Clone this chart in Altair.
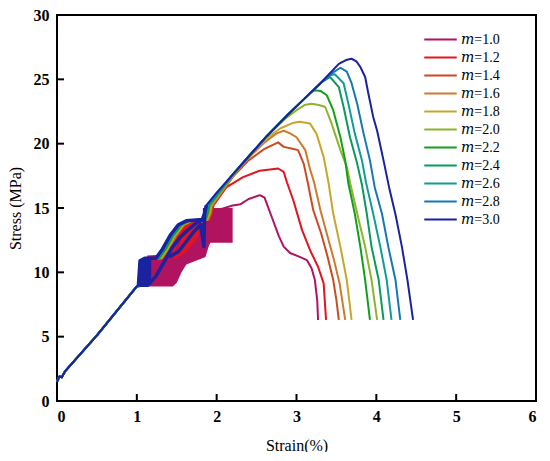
import altair as alt
import pandas as pd

# ---------------- data ----------------
labels = ["𝑚=1.0", "𝑚=1.2", "𝑚=1.4", "𝑚=1.6", "𝑚=1.8", "𝑚=2.0",
          "𝑚=2.2", "𝑚=2.4", "𝑚=2.6", "𝑚=2.8", "𝑚=3.0"]
colors = ["#B0135F", "#E3141E", "#CC4A22", "#CC7A2E", "#C8A62C", "#8DB42A",
          "#12A01A", "#0A9A5E", "#139C96", "#1677B6", "#1A22A0"]

# common elastic start (all curves)
start_strain = [0.0, 0.03, 0.06, 0.10, 0.50, 1.0]
start_stress = [1.5, 1.9, 1.85, 2.3, 5.1, 8.9]

# upper path through the cyclic-loading stages (stress levels shared)
loop_stress = [9.0, 10.9, 11.1, 11.1, 11.8, 12.9, 13.7, 14.0, 14.1, 14.6, 15.2]
loop_strain = {
    "𝑚=1.0": [1.12, 1.13, 1.16, 1.45, 1.50, 1.56, 1.61, 1.66, 1.86, 1.89, 2.20],
    "𝑚=1.2": [1.10, 1.13, 1.19, 1.34, 1.42, 1.52, 1.62, 1.72, 1.91, 1.94, 1.96],
    "𝑚=1.4": [1.09, 1.12, 1.18, 1.32, 1.40, 1.50, 1.60, 1.70, 1.90, 1.93, 1.95],
    "𝑚=1.6": [1.08, 1.11, 1.17, 1.31, 1.39, 1.49, 1.59, 1.69, 1.89, 1.92, 1.94],
    "𝑚=1.8": [1.07, 1.10, 1.16, 1.30, 1.38, 1.48, 1.58, 1.68, 1.88, 1.91, 1.93],
    "𝑚=2.0": [1.06, 1.09, 1.15, 1.29, 1.37, 1.47, 1.57, 1.67, 1.87, 1.90, 1.92],
    "𝑚=2.2": [1.05, 1.08, 1.14, 1.28, 1.36, 1.46, 1.56, 1.66, 1.86, 1.89, 1.91],
    "𝑚=2.4": [1.05, 1.07, 1.13, 1.27, 1.35, 1.45, 1.55, 1.65, 1.85, 1.88, 1.90],
    "𝑚=2.6": [1.04, 1.06, 1.12, 1.26, 1.34, 1.44, 1.54, 1.64, 1.84, 1.87, 1.89],
    "𝑚=2.8": [1.03, 1.05, 1.11, 1.25, 1.33, 1.43, 1.53, 1.63, 1.83, 1.86, 1.88],
    "𝑚=3.0": [1.02, 1.04, 1.10, 1.24, 1.32, 1.42, 1.52, 1.62, 1.82, 1.85, 1.87],
}

# post-cyclic loading: envelope, peak and softening branch
post_strain = {
    "𝑚=1.0": [2.30, 2.40, 2.54, 2.60, 2.69, 2.78, 2.84, 2.92, 3.04, 3.13, 3.19, 3.23, 3.26, 3.27],
    "𝑚=1.2": [2.12, 2.33, 2.54, 2.77, 2.84, 2.88, 2.96, 3.07, 3.17, 3.27, 3.34, 3.37],
    "𝑚=1.4": [2.2, 2.4, 2.6, 2.77, 2.84, 2.95, 3.02, 3.09, 3.14, 3.21, 3.31, 3.39, 3.46, 3.50, 3.53],
    "𝑚=1.6": [2.2, 2.4, 2.6, 2.75, 2.84, 2.92, 3.0, 3.11, 3.17, 3.22, 3.30, 3.39, 3.47, 3.54, 3.61],
    "𝑚=1.8": [2.2, 2.4, 2.6, 2.8, 2.95, 3.04, 3.17, 3.25, 3.34, 3.40, 3.46, 3.55, 3.63, 3.69],
    "𝑚=2.0": [2.2, 2.4, 2.63, 2.85, 3.0, 3.10, 3.19, 3.28, 3.36, 3.44, 3.55, 3.63, 3.67, 3.78, 3.86, 3.94, 4.01],
    "𝑚=2.2": [2.2, 2.4, 2.63, 2.9, 3.1, 3.18, 3.23, 3.30, 3.38, 3.46, 3.55, 3.61, 3.65, 3.73, 3.80, 3.86, 3.92],
    "𝑚=2.4": [2.2, 2.4, 2.63, 2.9, 3.1, 3.3, 3.42, 3.53, 3.59, 3.67, 3.76, 3.82, 3.88, 3.94, 4.03, 4.09],
    "𝑚=2.6": [2.2, 2.4, 2.63, 2.9, 3.1, 3.3, 3.40, 3.48, 3.59, 3.65, 3.73, 3.82, 3.87, 3.96, 4.05, 4.13, 4.19],
    "𝑚=2.8": [2.2, 2.4, 2.63, 2.9, 3.1, 3.3, 3.45, 3.55, 3.63, 3.69, 3.76, 3.84, 3.92, 3.98, 4.07, 4.15, 4.24, 4.30],
    "𝑚=3.0": [2.0, 2.2, 2.4, 2.63, 2.9, 3.1, 3.3, 3.53, 3.62, 3.69, 3.75, 3.80, 3.86, 3.90, 3.96, 4.01, 4.09, 4.16, 4.24, 4.32, 4.39, 4.46],
}
post_stress = {
    "𝑚=1.0": [15.3, 15.7, 16.0, 15.8, 14.3, 12.8, 12.0, 11.5, 11.2, 10.95, 10.3, 9.4, 7.8, 6.3],
    "𝑚=1.2": [16.6, 17.4, 17.9, 18.07, 17.8, 17.0, 15.6, 13.28, 11.72, 10.43, 9.14, 6.3],
    "𝑚=1.4": [17.4, 18.7, 19.6, 20.1, 19.75, 19.6, 19.5, 18.45, 17.0, 14.83, 13.0, 11.2, 9.4, 7.84, 6.3],
    "𝑚=1.6": [17.45, 18.9, 20.1, 20.8, 21.0, 20.8, 20.5, 19.5, 18.0, 17.0, 14.83, 12.76, 10.95, 9.14, 6.3],
    "𝑚=1.8": [17.5, 19.0, 20.3, 21.2, 21.6, 21.7, 21.56, 20.78, 18.97, 17.0, 14.57, 11.98, 9.4, 6.3],
    "𝑚=2.0": [17.5, 19.0, 20.6, 21.9, 22.6, 23.0, 23.1, 23.0, 22.85, 21.56, 19.5, 18.2, 17.0, 14.05, 11.98, 9.4, 6.3],
    "𝑚=2.2": [17.55, 19.0, 20.6, 22.3, 23.5, 24.0, 24.15, 24.1, 23.76, 22.6, 20.5, 18.7, 16.9, 14.57, 11.98, 9.4, 6.3],
    "𝑚=2.4": [17.6, 19.0, 20.6, 22.3, 23.5, 24.7, 25.18, 24.4, 22.85, 20.5, 18.45, 16.8, 14.57, 11.98, 9.4, 6.3],
    "𝑚=2.6": [17.6, 19.0, 20.6, 22.3, 23.5, 24.7, 25.3, 25.4, 24.7, 23.1, 20.8, 18.7, 17.0, 14.57, 11.98, 9.4, 6.3],
    "𝑚=2.8": [17.6, 19.0, 20.6, 22.3, 23.5, 24.7, 25.5, 25.9, 25.6, 24.7, 23.1, 20.8, 18.7, 16.6, 14.57, 11.98, 9.4, 6.3],
    "𝑚=3.0": [16.2, 17.6, 19.0, 20.6, 22.3, 23.5, 24.7, 26.2, 26.5, 26.6, 26.4, 25.96, 25.18, 23.9, 22.1, 21.0, 18.7, 16.6, 14.5, 12.0, 9.4, 6.3],
}

# densely packed loading/unloading cycles, drawn as their envelopes
band10_strain = [1.12, 1.13, 1.45, 1.50, 1.56, 1.62, 1.70, 1.86, 1.90, 1.92, 2.20]
band10_low = [8.9, 8.9, 8.9, 9.2, 10.0, 10.6, 10.8, 11.2, 12.0, 12.3, 12.3]
band10_high = [9.4, 11.3, 11.4, 12.2, 13.2, 13.8, 13.9, 13.9, 14.8, 15.0, 15.0]
band12_strain = [1.40, 1.50, 1.60, 1.70, 1.78]
band12_low = [10.9, 11.1, 11.5, 12.2, 12.9]
band12_high = [12.0, 13.2, 13.9, 14.0, 14.0]
band30_strain = [1.02, 1.04, 1.12, 1.18]
band30_low = [9.0, 9.0, 9.0, 9.3]
band30_high = [9.2, 10.9, 11.1, 11.1]

# extra strands of the m=3.0 cycles
strand_a_strain = [1.03, 1.14, 1.24, 1.34, 1.44, 1.54, 1.66, 1.76, 1.84]
strand_a_stress = [9.0, 9.0, 9.7, 10.8, 11.9, 12.7, 13.4, 13.9, 14.1]
strand_b_strain = [1.40, 1.52, 1.62, 1.72, 1.80, 1.84, 1.85]
strand_b_stress = [11.2, 11.6, 12.4, 13.2, 13.7, 12.0, 15.0]

x_ticks = [0, 1, 2, 3, 4, 5, 6]
y_ticks = [0, 5, 10, 15, 20, 25, 30]

SERIF = "Liberation Serif, Times New Roman, Times, Nimbus Roman, DejaVu Serif, serif"

# ---------------- build tables ----------------
rows = []
for k, lab in enumerate(labels):
    xs = start_strain + loop_strain[lab] + post_strain[lab]
    ys = start_stress + loop_stress + post_stress[lab]
    for j, (a, b) in enumerate(zip(xs, ys)):
        rows.append({"curve": lab, "idx": j, "strain": a, "stress": b})
curves = pd.DataFrame(rows)

band10 = pd.DataFrame({"strain": band10_strain, "lo": band10_low, "hi": band10_high})
band12 = pd.DataFrame({"strain": band12_strain, "lo": band12_low, "hi": band12_high})
band30 = pd.DataFrame({"strain": band30_strain, "lo": band30_low, "hi": band30_high})
strands = pd.concat([
    pd.DataFrame({"s": "a", "strain": strand_a_strain, "stress": strand_a_stress,
                  "idx": range(len(strand_a_strain))}),
    pd.DataFrame({"s": "b", "strain": strand_b_strain, "stress": strand_b_stress,
                  "idx": range(len(strand_b_strain))}),
    pd.DataFrame({"s": "c", "strain": loop_strain["𝑚=3.0"], "stress": loop_stress,
                  "idx": range(len(loop_stress))}),
])

X = alt.Scale(domain=[0, 6], nice=False)
Y = alt.Scale(domain=[0, 30], nice=False)
color_scale = alt.Scale(domain=labels, range=colors)

xaxis = alt.Axis(values=x_ticks, title="Strain(%)", format="d")
yaxis = alt.Axis(values=y_ticks, title="Stress (MPa)", format="d")

legend = alt.Legend(orient="none", legendX=376, legendY=17,
                    symbolType="M-2.5,0H2.5", symbolSize=169,
                    symbolStrokeWidth=2, labelOffset=13,
                    rowPadding=3, labelFontSize=14,
                    labelFont=SERIF, labelColor="black", padding=0)

layers = []
layers.append(alt.Chart(band10).mark_area(color=colors[0], interpolate="linear").encode(
    x=alt.X("strain:Q", scale=X, axis=xaxis),
    y=alt.Y("lo:Q", scale=Y, axis=yaxis),
    y2="hi:Q"))
layers.append(alt.Chart(band12).mark_area(color=colors[1], interpolate="linear").encode(
    x=alt.X("strain:Q", scale=X), y=alt.Y("lo:Q", scale=Y), y2="hi:Q"))

for k, lab in enumerate(labels):
    sub = curves[curves["curve"] == lab]
    layers.append(alt.Chart(sub).mark_line(strokeWidth=2, strokeJoin="round").encode(
        x=alt.X("strain:Q", scale=X),
        y=alt.Y("stress:Q", scale=Y),
        order="idx:Q",
        color=alt.Color("curve:N", scale=color_scale, title=None, legend=legend),
    ))

layers.append(alt.Chart(band30).mark_area(color=colors[10], interpolate="linear").encode(
    x=alt.X("strain:Q", scale=X), y=alt.Y("lo:Q", scale=Y), y2="hi:Q"))
layers.append(alt.Chart(strands).mark_line(strokeWidth=3.5, color=colors[10], strokeJoin="round").encode(
    x=alt.X("strain:Q", scale=X), y=alt.Y("stress:Q", scale=Y),
    detail="s:N", order="idx:Q"))

xt = pd.DataFrame({"v": x_ticks[1:-1]})
yt = pd.DataFrame({"v": y_ticks[1:-1]})
layers.append(alt.Chart(xt).mark_rule(color="black", strokeWidth=2).encode(
    x=alt.X("v:Q", scale=X), y=alt.value(386), y2=alt.value(379)))
layers.append(alt.Chart(yt).mark_rule(color="black", strokeWidth=2).encode(
    y=alt.Y("v:Q", scale=Y), x=alt.value(0), x2=alt.value(7)))

chart = alt.layer(*layers).properties(
    width=479, height=386,
    autosize=alt.AutoSizeParams(type="none"),
    padding={"left": 49, "top": 7, "right": 2, "bottom": 51},
    background="white",
).configure_view(stroke="black", strokeWidth=2).configure_axis(
    domain=False, ticks=False, tickSize=0, grid=False,
    labelFont=SERIF, labelFontWeight="bold", labelFontSize=16, labelColor="black",
    titleFont=SERIF, titleFontWeight="normal", titleFontSize=16, titleColor="black",
).configure_axisY(labelPadding=8, titlePadding=10).configure_axisX(labelPadding=7, titlePadding=13)

chart.save("out.html", embed_options={"renderer": "svg", "actions": False})
